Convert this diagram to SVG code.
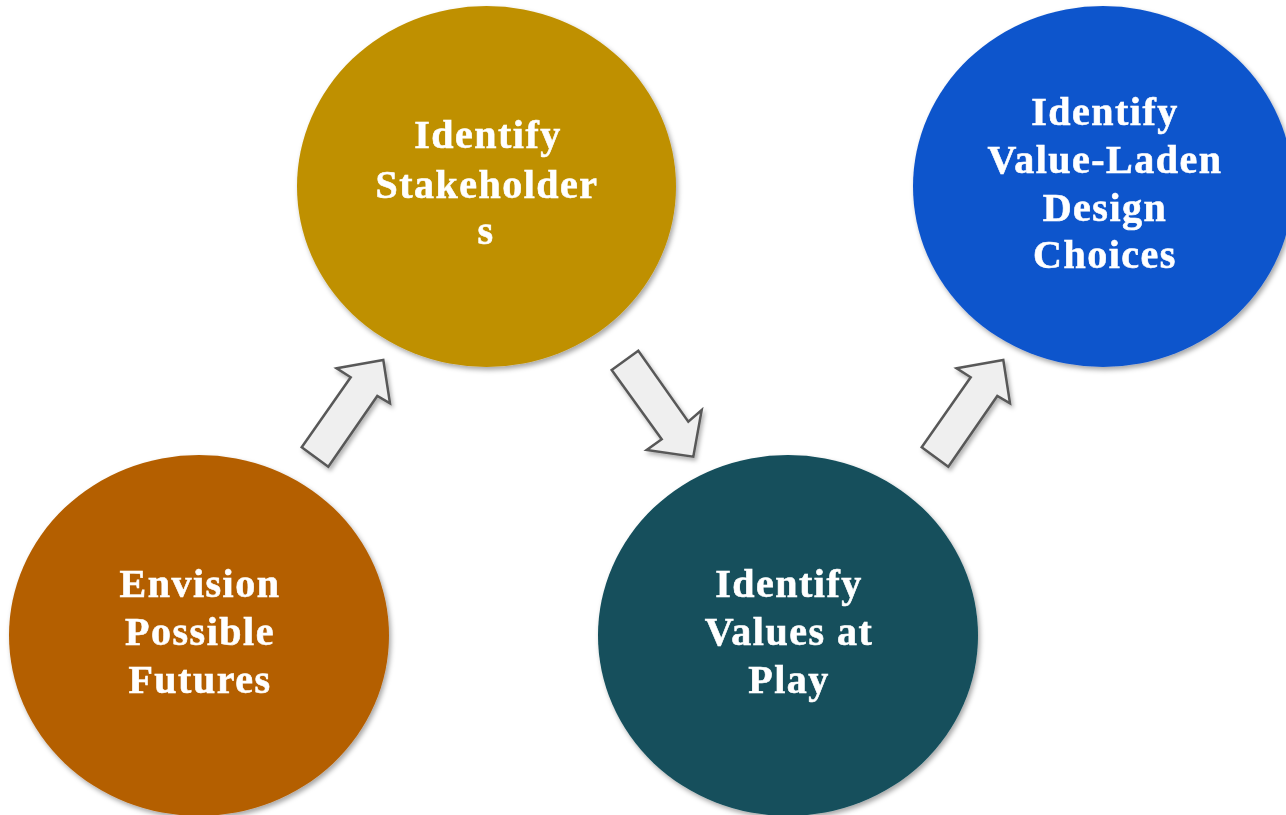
<svg xmlns="http://www.w3.org/2000/svg" width="1286" height="815" viewBox="0 0 1286 815">
  <defs>
    <filter id="shadow" x="-10%" y="-10%" width="125%" height="125%">
      <feDropShadow dx="2" dy="3" stdDeviation="2.5" flood-color="#000" flood-opacity="0.35"/>
    </filter>
    <filter id="ashadow" x="-20%" y="-20%" width="150%" height="150%">
      <feDropShadow dx="2" dy="3" stdDeviation="2" flood-color="#000" flood-opacity="0.3"/>
    </filter>
    <polygon id="arrowUp" points="336.7,368.3 383.3,360 390,403.3 377.3,396 328.3,466.7 301.7,447.3 350.7,377.3"/>
  </defs>
  <style>
    .lbl { font-family: "Liberation Serif", "DejaVu Serif", serif; font-weight: bold; font-size: 40px; letter-spacing: 1.5px; fill: #ffffff; stroke: #ffffff; stroke-width: 0.6px; text-anchor: middle; }
    .arrow { fill: #efefef; stroke: #595959; stroke-width: 2.5; stroke-linejoin: miter; }
    .node { filter: url(#shadow); }
  </style>
  <rect width="1286" height="815" fill="#ffffff"/>

  <g id="connectors" filter="url(#ashadow)">
    <use href="#arrowUp" class="arrow"/>
    <polygon class="arrow" points="611.7,370 638.3,350.7 688.3,421.7 701.7,410 693.3,456.7 646.7,450 661.7,439.3"/>
    <use href="#arrowUp" class="arrow" transform="translate(620,0)"/>
  </g>

  <g id="envision">
    <ellipse class="node" cx="199" cy="635.5" rx="190" ry="180.5" fill="#b45f06"/>
    <text class="lbl" x="200" y="597">Envision</text>
    <text class="lbl" x="200" y="645">Possible</text>
    <text class="lbl" x="200" y="693">Futures</text>
  </g>

  <g id="stakeholders">
    <ellipse class="node" cx="486.5" cy="186.5" rx="189.5" ry="180.5" fill="#bf9000"/>
    <text class="lbl" x="488" y="148">Identify</text>
    <text class="lbl" x="487" y="198">Stakeholder</text>
    <text class="lbl" x="486" y="244">s</text>
  </g>

  <g id="values">
    <ellipse class="node" cx="788" cy="635.5" rx="190" ry="180.5" fill="#134f5c"/>
    <text class="lbl" x="789" y="597">Identify</text>
    <text class="lbl" x="789" y="645">Values at</text>
    <text class="lbl" x="789" y="693">Play</text>
  </g>

  <g id="choices">
    <ellipse class="node" cx="1103" cy="186.5" rx="190" ry="180.5" fill="#1155cc"/>
    <text class="lbl" x="1105" y="125">Identify</text>
    <text class="lbl" x="1105" y="173">Value-Laden</text>
    <text class="lbl" x="1105" y="221">Design</text>
    <text class="lbl" x="1105" y="268">Choices</text>
  </g>
</svg>
